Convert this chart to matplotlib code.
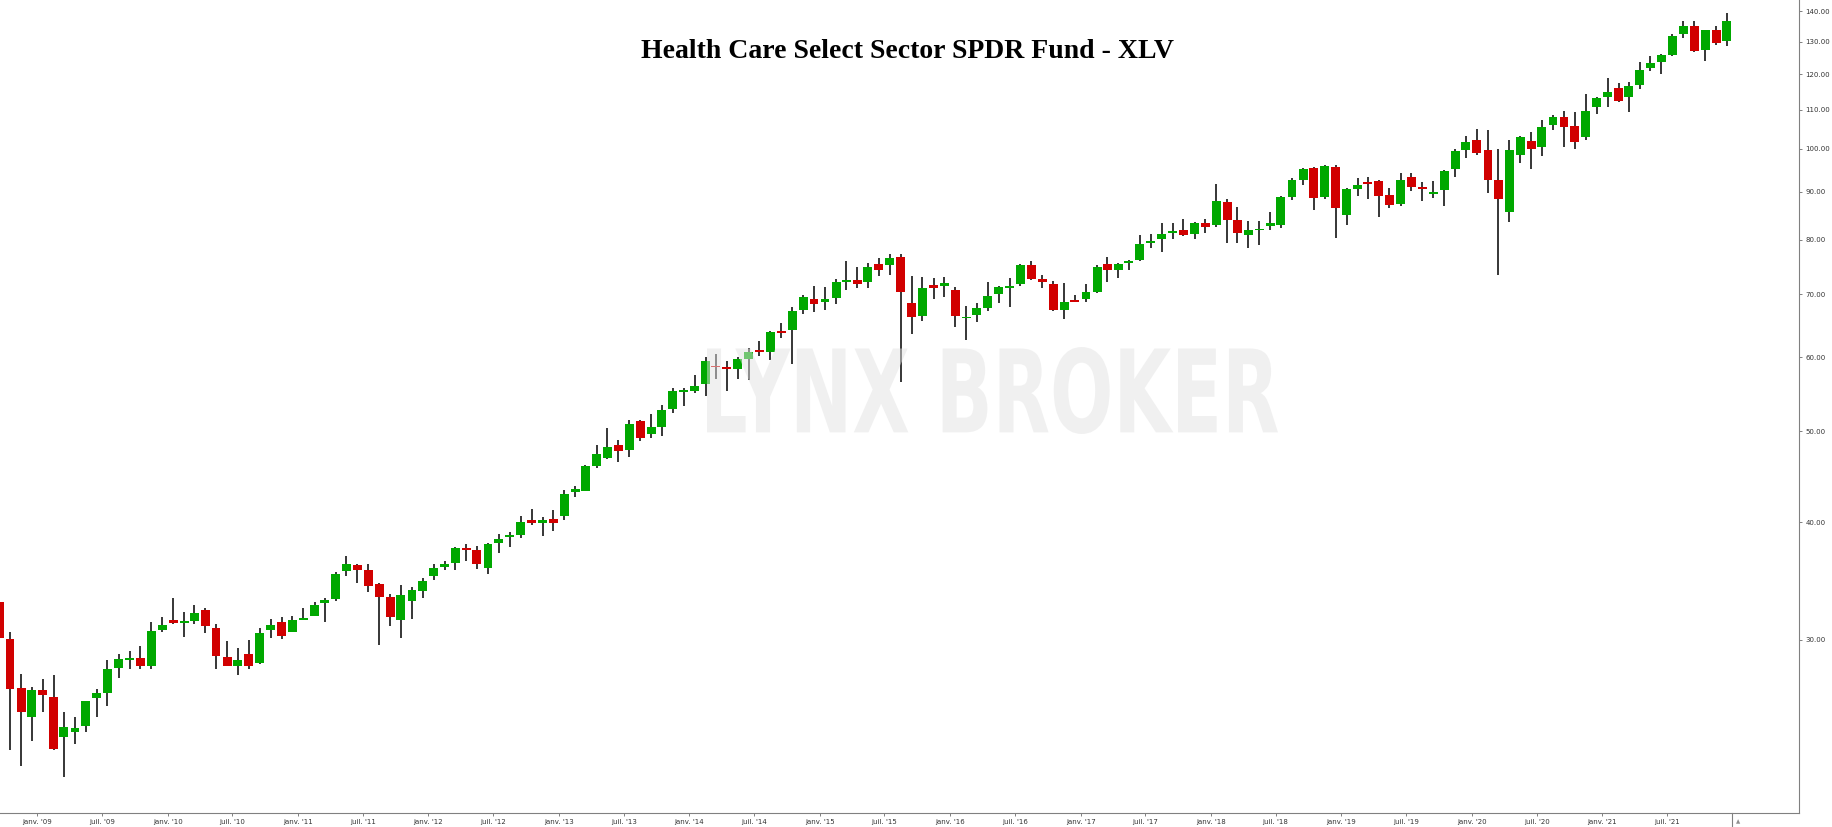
"""
XLV monthly candles (Sep 2008 - Dec 2021), log price axis on the right.
Output: out.png (1833x827)
"""
import numpy as np
import pandas as pd
import matplotlib
matplotlib.use("Agg")
import matplotlib.pyplot as plt
import matplotlib.dates as mdates
from matplotlib.textpath import TextPath
from matplotlib.patches import PathPatch
from matplotlib.font_manager import FontProperties
from matplotlib.transforms import Affine2D
from matplotlib.lines import Line2D

# ── data (monthly OHLC) ─────────────────────────────────────────
first_month = "2008-09-01"
last_month = "2021-12-01"

opens = [
    32.9, 30.06, 26.65, 24.85,
    26.5, 26.1, 23.65, 23.9, 24.3, 26.0, 26.35, 28.0, 28.57, 28.7, 28.1, 30.75,
    31.5, 31.25, 31.4, 32.3, 30.9, 28.75, 28.15, 28.95, 28.35, 30.75, 31.35, 30.6,
    31.5, 31.8, 32.8, 33.15, 35.5, 36.0, 35.55, 34.4, 33.3, 31.5, 33.0, 33.8,
    35.1, 35.9, 36.2, 37.55, 37.35, 35.8, 38.0, 38.55, 38.75, 40.2, 39.95, 40.3,
    40.65, 43.1, 43.2, 45.95, 46.85, 48.35, 47.8, 51.25, 49.7, 50.6, 52.85, 55.1,
    55.25, 56.1, 58.7, 58.55, 58.2, 59.7, 61.1, 60.8, 63.95, 64.1, 67.4, 69.15,
    68.75, 69.4, 72.2, 72.5, 72.2, 75.4, 75.1, 76.7, 68.5, 66.4, 71.6, 71.4,
    70.7, 65.95, 66.55, 67.6, 70.1, 71.0, 71.8, 75.2, 72.65, 71.8, 67.4, 68.95,
    69.2, 70.4, 75.4, 74.3, 75.55, 76.1, 79.4, 80.2, 81.35, 81.95, 81.15, 83.4,
    82.95, 87.8, 84.0, 80.95, 81.9, 82.7, 82.95, 88.85, 92.6, 95.4, 88.85, 95.6,
    85.0, 90.6, 92.2, 92.4, 89.25, 87.3, 93.35, 91.05, 89.5, 90.35, 95.15, 99.7,
    102.2, 99.7, 92.6, 85.6, 98.5, 101.9, 100.4, 106.1, 108.1, 105.7, 103.0, 110.85,
    113.5, 116.05, 113.6, 117.0, 122.0, 123.8, 125.9, 132.6, 135.1, 127.4, 133.8, 130.2,
]
highs = [
    33.3, 30.6, 27.6, 26.7,
    27.25, 27.5, 25.1, 24.8, 25.8, 26.6, 28.55, 29.0, 29.2, 29.55, 31.3, 31.7,
    33.2, 32.1, 32.7, 32.4, 31.2, 29.9, 29.4, 30.0, 30.9, 31.6, 31.7, 31.8,
    32.4, 32.9, 33.2, 35.4, 36.8, 36.1, 36.1, 34.45, 33.6, 34.3, 34.1, 34.9,
    36.1, 36.4, 37.65, 37.9, 37.75, 38.0, 38.85, 39.05, 40.6, 41.3, 40.5, 41.2,
    43.3, 43.7, 46.0, 48.35, 50.4, 49.0, 51.4, 51.4, 52.2, 53.4, 55.55, 55.55,
    57.4, 60.0, 60.4, 59.4, 59.95, 61.3, 62.4, 64.0, 65.2, 67.9, 69.8, 71.4,
    71.3, 72.6, 75.95, 74.8, 75.5, 76.5, 77.2, 77.2, 73.2, 73.0, 72.85, 73.0,
    71.2, 68.0, 68.5, 72.1, 71.45, 72.8, 75.3, 75.95, 73.4, 72.3, 71.95, 69.9,
    71.8, 75.2, 76.7, 75.55, 76.1, 80.95, 81.15, 83.4, 83.4, 84.2, 83.6, 84.2,
    91.7, 88.3, 86.7, 83.8, 83.8, 85.6, 89.05, 93.1, 95.3, 95.6, 96.0, 96.0,
    90.85, 93.1, 93.35, 92.6, 90.85, 94.2, 94.2, 92.2, 92.4, 94.8, 99.9, 103.2,
    105.0, 104.8, 99.9, 102.2, 103.2, 104.2, 107.3, 108.6, 109.7, 109.4, 114.4, 113.6,
    118.9, 117.5, 117.8, 123.7, 125.5, 126.1, 132.5, 136.8, 136.8, 133.8, 135.1, 139.5,
]
lows = [
    29.8, 22.9, 22.0, 23.4,
    25.1, 22.9, 21.45, 23.25, 23.9, 24.8, 25.5, 27.3, 27.9, 27.95, 27.95, 30.6,
    31.2, 30.2, 31.2, 30.5, 27.9, 28.1, 27.5, 27.9, 28.3, 30.1, 30.05, 30.6,
    31.5, 31.8, 31.35, 33.0, 35.1, 34.5, 33.7, 29.6, 31.05, 30.1, 31.6, 33.2,
    34.7, 35.6, 35.6, 36.4, 35.7, 35.25, 37.1, 37.7, 38.5, 39.75, 38.65, 39.2,
    40.25, 42.6, 43.15, 45.7, 46.7, 46.35, 47.0, 48.8, 49.25, 49.45, 52.25, 53.2,
    54.9, 54.6, 56.85, 55.25, 56.9, 56.65, 60.15, 59.6, 62.9, 59.0, 66.6, 67.0,
    67.35, 68.3, 70.8, 71.0, 71.15, 73.2, 73.3, 56.5, 63.55, 65.6, 69.2, 69.5,
    64.65, 62.5, 65.4, 67.2, 68.45, 67.9, 71.4, 72.4, 71.0, 67.2, 65.8, 68.6,
    68.6, 70.2, 72.1, 72.9, 74.2, 75.95, 78.4, 77.65, 80.2, 80.75, 80.2, 81.35,
    82.6, 79.4, 79.4, 78.45, 79.0, 81.9, 82.4, 88.1, 91.5, 86.05, 88.3, 80.4,
    82.95, 89.05, 88.3, 84.5, 86.5, 86.9, 90.2, 88.0, 88.6, 86.9, 93.35, 97.75,
    98.5, 89.7, 73.4, 83.6, 96.55, 95.15, 98.3, 104.7, 100.4, 99.9, 102.2, 109.0,
    110.85, 112.0, 109.5, 115.7, 121.1, 120.2, 125.6, 131.3, 126.9, 124.1, 129.0, 128.5,
]
closes = [
    30.1, 26.6, 25.15, 26.5,
    26.2, 22.95, 24.2, 24.15, 25.8, 26.3, 27.9, 28.6, 28.7, 28.1, 30.65, 31.1,
    31.27, 31.4, 32.0, 31.0, 28.85, 28.15, 28.55, 28.1, 30.5, 31.1, 30.3, 31.5,
    31.65, 32.7, 33.1, 35.25, 36.1, 35.6, 34.2, 33.3, 31.75, 33.5, 33.85, 34.65,
    35.75, 36.1, 37.55, 37.4, 36.1, 37.9, 38.4, 38.75, 40.0, 39.95, 40.2, 39.95,
    42.9, 43.4, 45.9, 47.3, 48.1, 47.6, 50.9, 49.25, 50.55, 52.7, 55.2, 55.35,
    55.9, 59.4, 58.5, 58.2, 59.7, 60.7, 60.8, 63.8, 63.7, 67.2, 69.5, 68.4,
    69.2, 72.1, 72.5, 71.7, 74.8, 74.3, 76.5, 70.45, 66.25, 71.1, 71.0, 71.9,
    66.4, 66.2, 67.7, 69.7, 71.2, 71.5, 75.2, 72.7, 72.2, 67.4, 68.7, 68.6,
    70.4, 74.8, 74.3, 75.4, 75.95, 79.2, 79.8, 81.15, 81.75, 80.95, 83.4, 82.55,
    88.0, 84.0, 81.4, 82.0, 82.2, 83.35, 88.85, 92.6, 95.15, 88.6, 95.85, 86.5,
    90.6, 91.5, 91.7, 89.05, 87.1, 92.6, 91.05, 90.6, 89.9, 94.7, 99.45, 101.7,
    98.95, 92.6, 88.3, 99.7, 102.9, 99.9, 105.5, 108.1, 105.5, 101.7, 109.7, 113.2,
    114.9, 112.5, 116.6, 121.3, 123.4, 125.8, 131.8, 135.1, 127.1, 133.8, 129.7, 136.8,
]

price_ticks = [30, 40, 50, 60, 70, 80, 90, 100, 110, 120, 130, 140]
tick_years = list(range(2009, 2022))
month_names = {1: "janv.", 7: "juil."}

title = "Health Care Select Sector SPDR Fund - XLV"
watermark = "LYNX BROKER"

UP = "#00a800"
DOWN = "#d10000"

# ── figure ─────────────────────────────────────────────────────
W, H = 1833, 827
fig = plt.figure(figsize=(W / 100, H / 100), dpi=100, facecolor="white")
ax = fig.add_axes([0, 14.3 / H, 1799.3 / W, 812.7 / H])

months = pd.date_range(first_month, last_month, freq="MS") + pd.Timedelta(days=15)
x = mdates.date2num(months.to_pydatetime())
o = np.array(opens)
h = np.array(highs)
l = np.array(lows)
c = np.array(closes)
up = c >= o
colors = np.where(up, UP, DOWN)

ax.vlines(x, l, h, color="black", linewidth=1.1, zorder=2)
ax.bar(x, np.abs(c - o), bottom=np.minimum(o, c), width=25, color=colors,
       edgecolor="none", zorder=3)

ax.set_yscale("log")
ax.set_ylim(19.63, 144.0)
ax.set_xlim(mdates.date2num(pd.Timestamp("2008-09-18")),
            mdates.date2num(pd.Timestamp("2022-07-07")))

# y axis on the right
ax.yaxis.tick_right()
ax.yaxis.set_major_locator(matplotlib.ticker.FixedLocator(price_ticks))
ax.yaxis.set_major_formatter(matplotlib.ticker.FuncFormatter(lambda v, p: f"{v:.2f}"))
ax.yaxis.set_minor_locator(matplotlib.ticker.NullLocator())

# x axis: janv./juil. labels
xt, xl = [], []
for yr in tick_years:
    for mo in (1, 7):
        xt.append(mdates.date2num(pd.Timestamp(yr, mo, 1)))
        xl.append(f"{month_names[mo]} '{yr % 100:02d}")
ax.set_xticks(xt)
ax.set_xticklabels(xl)

ax.tick_params(axis="both", labelsize=5, labelcolor="#333333", colors="#808080",
               length=2.5, width=0.7, pad=2)
ax.tick_params(axis="x", labelcolor="#333333")
ax.tick_params(axis="y", labelcolor="#333333")

for side in ("left", "top"):
    ax.spines[side].set_visible(False)
for side in ("right", "bottom"):
    ax.spines[side].set_color("#808080")
    ax.spines[side].set_linewidth(0.8)

# title
fig.text(907.6 / W, 1 - 51 / H, title, ha="center", va="center",
         fontsize=20, fontweight="bold", family="Liberation Serif", color="black")

# watermark (drawn above the candles, semi transparent)
tp = TextPath((0, 0), watermark, size=100,
              prop=FontProperties(family="DejaVu Sans", weight="bold"))
ext = tp.get_extents()
x0, x1 = 707 / W, 1278 / W
y0, y1 = (H - 434) / H, (H - 347) / H
tr = (Affine2D().translate(-ext.x0, -ext.y0)
      .scale((x1 - x0) / ext.width, (y1 - y0) / ext.height)
      .translate(x0, y0) + fig.transFigure)
fig.add_artist(PathPatch(tp, transform=tr, facecolor="#e2e2e2",
                         edgecolor="none", alpha=0.5, zorder=5))

# small current-date marker under the axis
fig.add_artist(Line2D([1732.3 / W, 1732.3 / W], [0, 14.3 / H],
                      transform=fig.transFigure, color="#808080", linewidth=0.8))
fig.text(1737.7 / W, 2.5 / H, "▲", ha="center", va="bottom",
         fontsize=4, color="#909090")

fig.savefig("out.png", dpi=100, facecolor="white")
